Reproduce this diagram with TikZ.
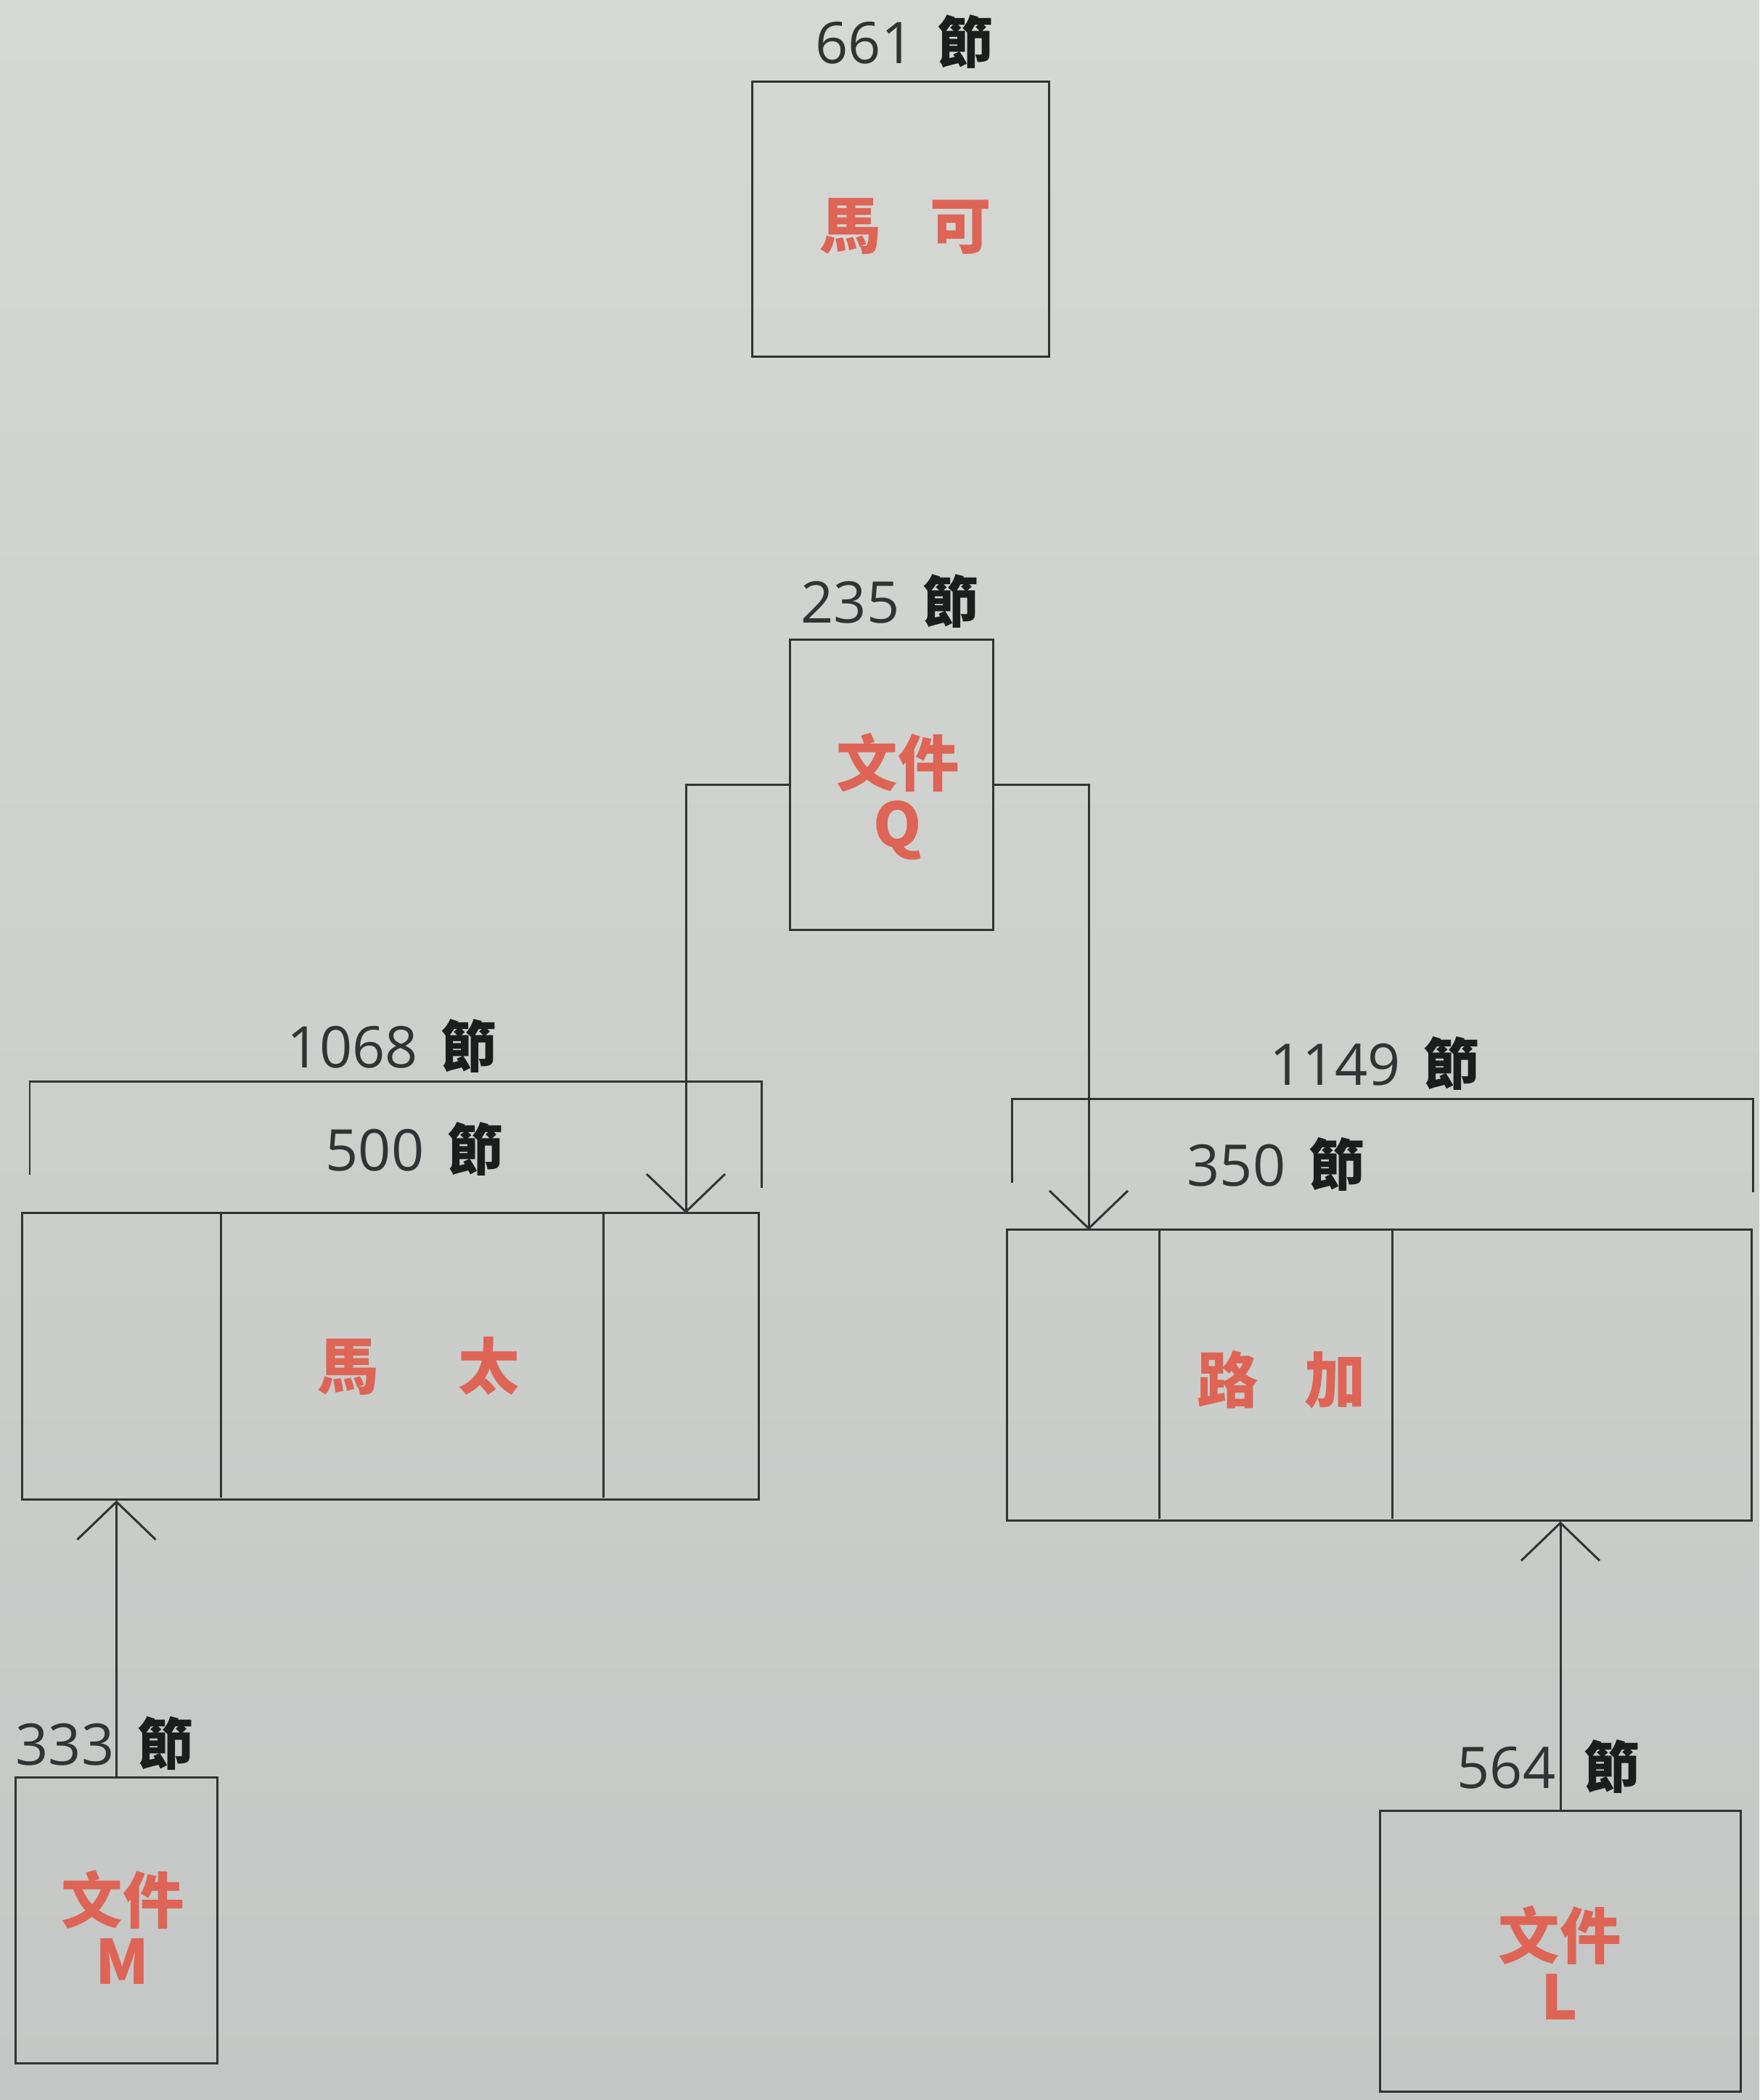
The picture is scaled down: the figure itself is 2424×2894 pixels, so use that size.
\documentclass[tikz,border=0pt]{standalone}
\usepackage{fontspec}
\newfontfamily\cjk{Noto Sans CJK TC}
\newfontfamily\numf{Open Sans}
\usetikzlibrary{arrows.meta}
\definecolor{ink}{RGB}{48,52,52}
\definecolor{redt}{RGB}{222,100,86}
\definecolor{jiec}{RGB}{28,30,30}
\definecolor{bgtop}{RGB}{214,216,212}
\definecolor{bgbot}{RGB}{196,199,197}
\newcommand{\jiechar}{{\cjk\bfseries\color{jiec}\fontsize{22pt}{26pt}\selectfont 節}}
\begin{document}
\begin{tikzpicture}[x=0.01cm,y=-0.01cm,
  box/.style={draw=ink,line width=0.85pt,rectangle,inner sep=0pt},
  redlab/.style={inner sep=0pt,text=redt,align=center,font=\cjk\bfseries\fontsize{24pt}{24pt}\selectfont},
  lab/.style={anchor=base,inner sep=0pt,text=ink,font=\numf\fontsize{22.5pt}{26pt}\selectfont},
  rule/.style={draw=ink,line width=0.85pt},
  arr/.style={draw=ink,line width=0.85pt,-{Straight Barb[length=0.52cm,width=1.08cm]}}]
\useasboundingbox (0,0) rectangle (2424,2894);
\shade[top color=bgtop,bottom color=bgbot] (0,0) rectangle (2424,2894);

% boxes
\node[box,minimum width=4.08cm,minimum height=3.78cm] (mark) at (1241,302) {};
\node[box,minimum width=2.79cm,minimum height=3.99cm] (q) at (1228.5,1081.5) {};
\node[box,minimum width=10.14cm,minimum height=3.94cm] (mt) at (538,1869) {};
\node[box,minimum width=10.25cm,minimum height=4.00cm] (lk) at (1900.5,1895) {};
\node[box,minimum width=2.77cm,minimum height=3.93cm] (m) at (160.5,2646.5) {};
\node[box,minimum width=4.96cm,minimum height=3.86cm] (l) at (2150,2689) {};

% dividers
\draw[rule] (mt.north west) ++(275,0) -- ++(0,394);
\draw[rule] (mt.north west) ++(802,0) -- ++(0,394);
\draw[rule] (lk.north west) ++(211,0) -- ++(0,400);
\draw[rule] (lk.north west) ++(532,0) -- ++(0,400);

% red texts
\node[redlab] (markt) at (1248,312) {馬\hspace{0.8em}可};
\node[redlab] (qt) at (1237,1098) {文件\\Q};
\node[redlab] (mtt) at (577,1883) {馬\hspace{1.3em}太};
\node[redlab] (lkt) at (1766,1901) {路\hspace{0.75em}加};
\node[redlab] (mmt) at (169,2656) {文件\\M};
\node[redlab] (llt) at (2149,2705) {文件\\L};

% size labels
\node[lab] (l661) at (1246,88) {661\hspace{0.4em}\jiechar};
\node[lab] (l235) at (1226,858) {235\hspace{0.4em}\jiechar};
\node[lab] (l1068) at (540,1471) {1068\hspace{0.4em}\jiechar};
\node[lab] (l500) at (571,1613) {500\hspace{0.4em}\jiechar};
\node[lab] (l1149) at (1894,1495) {1149\hspace{0.4em}\jiechar};
\node[lab] (l350) at (1758,1634) {350\hspace{0.4em}\jiechar};
\node[lab] (l333) at (144,2432) {333\hspace{0.4em}\jiechar};
\node[lab] (l564) at (2134,2464) {564\hspace{0.5em}\jiechar};

% brackets
\draw[rule] (41,1619) -- (41,1490) -- (1049,1490) -- (1049,1637);
\draw[rule] (1394,1630) -- (1394,1514) -- (2415,1514) -- (2415,1643);

% connectors
\coordinate (mtin) at (945,1672);
\coordinate (lkin) at (1500,1695);
\draw[arr] (q.west) -| (mtin);
\draw[arr] (q.east) -| (lkin);
\draw[arr] (m.north) -- (m.north |- mt.south);
\draw[arr] (l.north) -- (l.north |- lk.south);
\end{tikzpicture}
\end{document}
